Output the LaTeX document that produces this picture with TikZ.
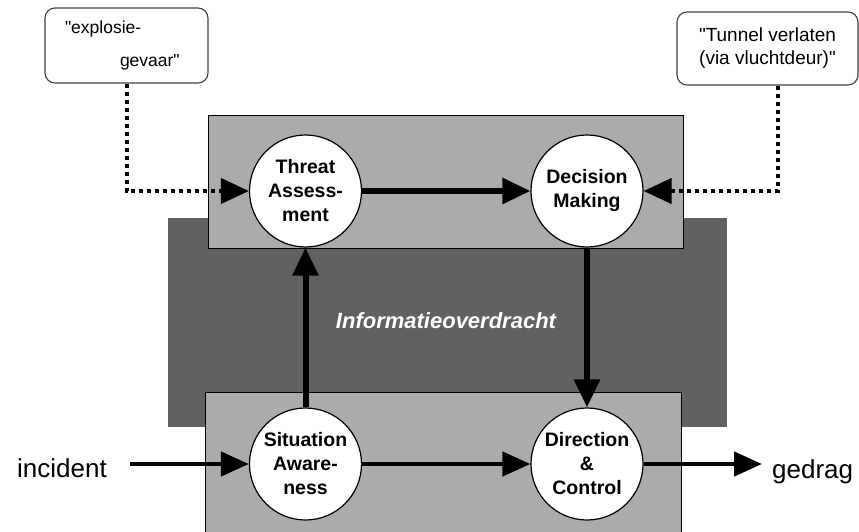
\documentclass[tikz,border=0pt]{standalone}
\usepackage{fontspec}
\setmainfont{Liberation Sans}
\usetikzlibrary{arrows.meta}

\begin{document}
\begin{tikzpicture}[
			     x=1pt, y=-1pt,
			     panel/.style={fill=black!33, draw=black, line width=0.8pt},
			     core/.style={fill=black!62},
			     func/.style={circle, draw, line width=1.2pt, fill=white, minimum size=112pt, inner sep=0pt, align=center, font=\bfseries\fontsize{19.5}{24}\selectfont},
			     quote/.style={draw=black!75, line width=1.1pt, rounded corners=10pt, fill=white, inner sep=0pt},
			     side/.style={font=\fontsize{26}{30}\selectfont, inner ysep=0pt},
			     flow/.style={line width=6pt, -{Triangle[length=28pt,width=25pt]}},
			     thin flow/.style={line width=4.5pt, -{Triangle[length=28pt,width=24pt]}},
			     cue/.style={line width=4pt, dash pattern=on 4pt off 4pt, -{Triangle[length=28pt,width=25pt]}}
			     ]
\useasboundingbox (0,0) rectangle (859,532);
% layers
\fill[core] (168,218) rectangle (727,427);
\draw[panel] (208,115) rectangle (683,248);
\draw[panel] (205,532) |- (681,392) -- (681,532);
\node (info) at (446,321) [text=white, font=\bfseries\itshape\fontsize{22}{26}\selectfont] {Informatieoverdracht};
% functions
\node (ta) at (305.5,191) [func] {Threat\\Assess-\\ment};
\node (dm) at (587,191) [func] {Decision\\Making};
\node (sa) at (305.5,464) [func] {Situation\\Aware-\\ness};
\node (dc) at (587,464) [func] {Direction\\\&\\Control};
% cues
\node (explo) at (126.5,45.5) [quote, minimum width=163pt, minimum height=75pt, inner xsep=20pt, text width=123pt, align=left, font=\fontsize{17.5}{33}\selectfont] {\textquotedbl explosie-\\\hspace*{55pt}gevaar\textquotedbl};
\node (tunnel) at (767.5,48.5) [quote, minimum width=181pt, minimum height=73pt, align=center, font=\fontsize{19}{23}\selectfont] {\textquotedbl Tunnel verlaten\\(via vluchtdeur)\textquotedbl};
\node (incident) at (130,477) [side, anchor=base east, inner xsep=23pt] {incident};
\node (gedrag) at (762,478) [side, anchor=base west, inner xsep=10pt] {gedrag};
% connectors
\draw[cue] (explo.south) |- (ta.west);
\draw[cue] ([xshift=10pt]tunnel.south) |- (dm.east);
\draw[flow] (ta.east) -- (dm.west);
\draw[flow] (sa.north) -- (ta.south);
\draw[flow] (dm.south) -- (dc.north);
\draw[thin flow] (sa.west -| incident.east) -- (sa.west);
\draw[thin flow] (sa.east) -- (dc.west);
\draw[thin flow] (dc.east) -- (dc.east -| gedrag.west);
\end{tikzpicture}
\end{document}
